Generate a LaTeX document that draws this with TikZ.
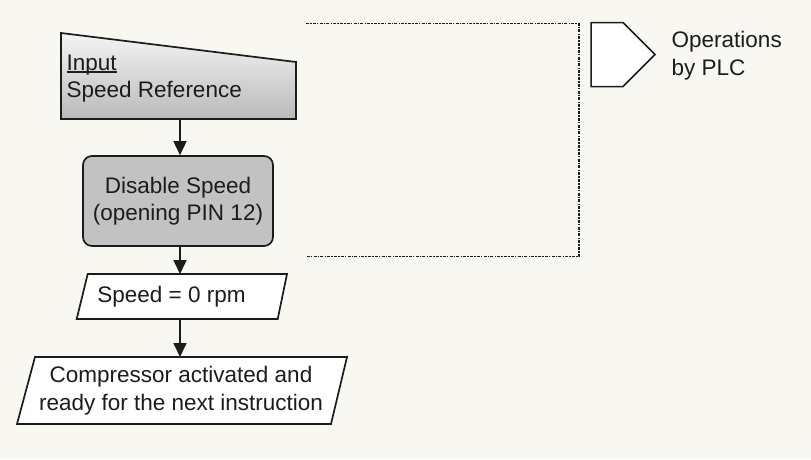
\documentclass[tikz,border=0pt]{standalone}
\usepackage{fontspec}
\setmainfont{Liberation Sans}
\usetikzlibrary{arrows.meta}
\definecolor{bg}{HTML}{F9F7F2}
\definecolor{boxgray}{HTML}{C2C2C2}
\definecolor{ink}{HTML}{1C1C1C}
\tikzset{
  box/.style={draw=ink, line width=1.7pt},
  lbl/.style={font=\fontsize{22.5}{27.5}\selectfont, text=ink, inner sep=0pt},
  flow/.style={draw=ink, line width=1.7pt, -{Triangle[length=14pt,width=13pt]}},
  plc/.style={draw=ink, line width=1.7pt, dash pattern=on 3pt off 1.2pt on 1.4pt off 1.2pt},
}
\begin{document}
\begin{tikzpicture}[x=1pt,y=-1pt]
\fill[bg] (0,0) rectangle (811,459);
\useasboundingbox (0,0) rectangle (811,459);

% manual input
\draw[box, top color=gray!8, bottom color=gray!55] (61,33) -- (296,62) -- (296,119) -- (61,119) -- cycle;
\coordinate (inb) at (180,119);
\node[lbl, anchor=base west] (inp) at (66.5,70) {\setbox0\hbox{Input}\rlap{\rule[-2.6pt]{\wd0}{1.3pt}}\box0};
\node[lbl, anchor=base west] (spref) at (66.5,97) {Speed Reference};

% process
\node[box, fill=boxgray, rounded corners=9pt, minimum width=190pt, minimum height=90pt,
      align=center, lbl] (dis) at (178,201) {Disable Speed\\(opening PIN 12)};

% speed = 0
\draw[box, fill=white] (87.7,274) -- (287,274) -- (277.7,319) -- (76.7,319) -- cycle;
\coordinate (spt) at (180,274);
\coordinate (spb) at (180,319);
\node[lbl] (sp) at (171.5,296.5) {Speed = 0 rpm};

% compressor
\draw[box, fill=white] (35,357) -- (347,357) -- (331,424) -- (17,424) -- cycle;
\coordinate (cpt) at (180,357);
\node[lbl, align=center] (comp) at (181,390.5) {Compressor activated and\\ready for the next instruction};

% connectors
\draw[flow] (inb) -- (inb |- dis.north);
\draw[flow] (dis.south -| spt) -- (spt);
\draw[flow] (spb) -- (cpt);

% PLC bracket
\coordinate (p1) at (306,23.5);
\coordinate (p2) at (579,23.5);
\coordinate (p3) at (579,256.5);
\coordinate (p4) at (306,256.5);
\draw[plc] (p1) -- (p2) -- (p3) -- (p4);

% legend
\draw[box, fill=white, line width=1.5pt] (591,22.5) -- (623,22.5) -- (655,54.5) -- (623,86.5) -- (591,86.5) -- cycle;
\node[lbl, anchor=west, align=left] (ops) at (671.5,55.5) {Operations\\by PLC};
\end{tikzpicture}
\end{document}
